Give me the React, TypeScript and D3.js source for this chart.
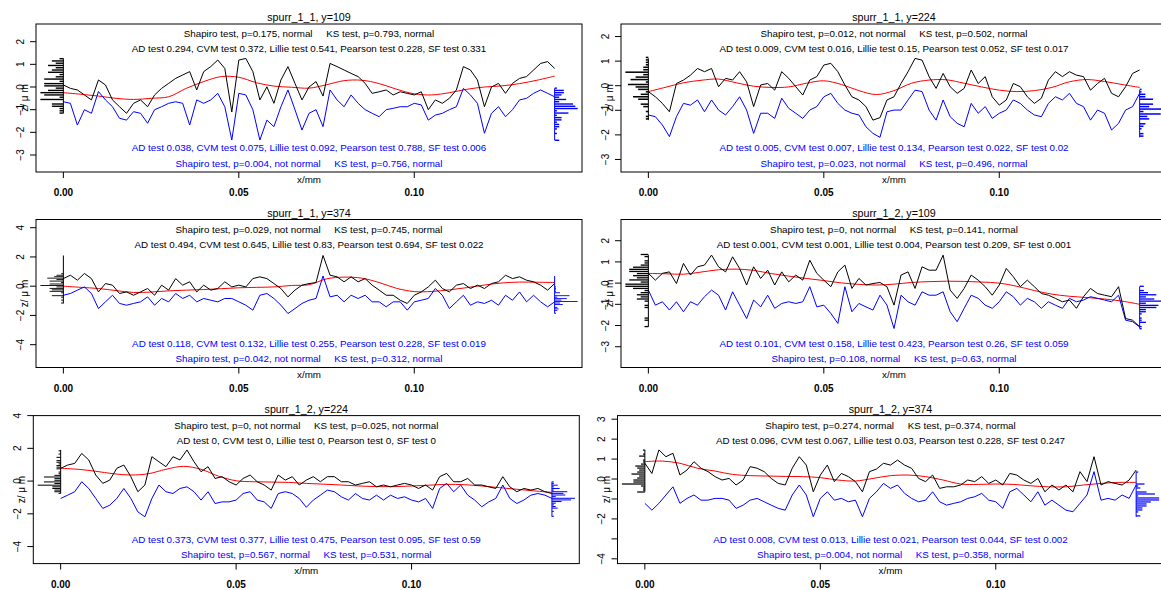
import React from 'react';
import * as d3 from 'd3';

// ---------- data ----------
const X_STEP = 0.002; // mm between profile samples
const RED_STEP = 0.005; // mm between smooth-trend samples
const X_TICKS = [0, 0.05, 0.1];
const X_TICK_LABELS = ['0.00', '0.05', '0.10'];

const TITLES = ['spurr_1_1, y=109', 'spurr_1_1, y=224', 'spurr_1_1, y=374', 'spurr_1_2, y=109', 'spurr_1_2, y=224', 'spurr_1_2, y=374'];

const BLACK_TEST1 = [
  'Shapiro test, p=0.175, normal     KS test, p=0.793, normal',
  'Shapiro test, p=0.012, not normal     KS test, p=0.502, normal',
  'Shapiro test, p=0.029, not normal     KS test, p=0.745, normal',
  'Shapiro test, p=0, not normal     KS test, p=0.141, normal',
  'Shapiro test, p=0, not normal     KS test, p=0.025, not normal',
  'Shapiro test, p=0.274, normal     KS test, p=0.374, normal',
];
const BLACK_TEST2 = [
  'AD test 0.294, CVM test 0.372, Lillie test 0.541, Pearson test 0.228, SF test 0.331',
  'AD test 0.009, CVM test 0.016, Lillie test 0.15, Pearson test 0.052, SF test 0.017',
  'AD test 0.494, CVM test 0.645, Lillie test 0.83, Pearson test 0.694, SF test 0.022',
  'AD test 0.001, CVM test 0.001, Lillie test 0.004, Pearson test 0.209, SF test 0.001',
  'AD test 0, CVM test 0, Lillie test 0, Pearson test 0, SF test 0',
  'AD test 0.096, CVM test 0.067, Lillie test 0.03, Pearson test 0.228, SF test 0.247',
];
const BLUE_TEST1 = [
  'AD test 0.038, CVM test 0.075, Lillie test 0.092, Pearson test 0.788, SF test 0.006',
  'AD test 0.005, CVM test 0.007, Lillie test 0.134, Pearson test 0.022, SF test 0.02',
  'AD test 0.118, CVM test 0.132, Lillie test 0.255, Pearson test 0.228, SF test 0.019',
  'AD test 0.101, CVM test 0.158, Lillie test 0.423, Pearson test 0.26, SF test 0.059',
  'AD test 0.373, CVM test 0.377, Lillie test 0.475, Pearson test 0.095, SF test 0.59',
  'AD test 0.008, CVM test 0.013, Lillie test 0.021, Pearson test 0.044, SF test 0.002',
];
const BLUE_TEST2 = [
  'Shapiro test, p=0.004, not normal     KS test, p=0.756, normal',
  'Shapiro test, p=0.023, not normal     KS test, p=0.496, normal',
  'Shapiro test, p=0.042, not normal     KS test, p=0.312, normal',
  'Shapiro test, p=0.108, normal     KS test, p=0.63, normal',
  'Shapiro test, p=0.567, normal     KS test, p=0.531, normal',
  'Shapiro test, p=0.004, not normal     KS test, p=0.358, normal',
];

const P1_BLACK = [
  0.09, -0.06, -0.13, -0.35, -0.57, 0.31, 0.09, -0.57, -0.87, -1.16,
  -0.72, -0.57, -0.87, -0.35, -0.06, 0.16, 0.38, 0.53, 0.68, -0.13,
  0.68, 0.9, 1.19, 0.82, -1.1, 1.19, 1.26, 0.68, -0.57, 0.01,
  -0.72, 0.31, 0.9, 0.16, -0.57, 0.0, 0.24, -0.4, 1.04, 0.9,
  0.75, 0.6, 0.46, 0.16, -0.28, -0.21, -0.13, -0.35, -0.21, -0.28,
  -0.35, -0.21, -1.0, -0.57, -0.72, -0.5, -0.13, 0.9, 0.75, 0.31,
  -0.87, 0.0, 0.16, -0.28, 0.16, 0.38, 0.46, 0.75, 1.04, 1.12,
  0.82,
];
const P1_BLUE = [
  -0.65, -0.72, -1.68, -1.0, -1.16, -0.2, -0.57, -0.87, -1.38, -1.46,
  -1.09, -1.16, -1.6, -1.0, -0.87, -0.72, -0.65, -0.72, -1.68, -0.57,
  -0.72, -0.57, -0.28, -0.87, -2.34, -0.28, -0.35, -1.0, -2.34, -1.46,
  -1.75, -0.87, -0.13, -1.0, -1.9, -1.16, -1.0, -1.75, -0.13, -0.57,
  -0.87, -0.35, -0.72, -1.0, -1.16, -1.31, -1.0, -0.94, -0.87, -0.87,
  -0.72, -0.79, -1.46, -1.24, -1.16, -1.0, -0.87, -0.06, -0.35, -0.72,
  -2.04, -1.16, -0.87, -1.31, -1.0, -0.57, -0.5, -0.28, -0.13, -0.28,
  -0.43,
];
const P1_RED = [-0.25, -0.32, -0.4, -0.5, -0.55, -0.5, -0.43, -0.06, 0.24, 0.46, 0.43, 0.19, 0.04, -0.01, -0.05, 0.1, 0.28, 0.3, 0.15, -0.1, -0.3, -0.35, -0.25, -0.1, 0.0, 0.05, 0.15, 0.3, 0.48];

const P2_BLACK = [
  -0.24, -0.45, -0.72, -1.06, 0.09, 0.23, 0.43, 0.7, 0.57, 0.7,
  -0.04, 0.3, 0.23, 0.57, 0.16, -0.85, 0.03, 0.09, -0.18, 0.57,
  0.3, -0.04, -0.38, 0.23, 0.37, 0.84, 0.91, 0.57, 0.03, -0.45,
  -0.58, -0.85, -1.4, -1.3, -0.58, -0.45, 0.09, 0.57, 1.11, 1.04,
  0.37, -0.11, 0.5, -0.04, -0.31, -0.11, 0.64, 0.09, 0.37, -0.45,
  -0.79, -0.58, 0.09, -0.04, -0.45, -0.72, -0.51, 0.23, 0.57, 0.37,
  0.57, 0.43, 0.37, -0.18, 0.09, 0.3, -0.31, -0.45, -0.04, 0.5,
  0.64,
];
const P2_BLUE = [
  -1.19, -1.26, -1.6, -2.07, -1.26, -0.72, -0.79, -0.58, -1.06, -0.58,
  -0.99, -1.19, -0.85, -0.45, -0.99, -1.94, -1.12, -1.12, -1.33, -0.51,
  -0.92, -1.12, -1.33, -0.99, -0.85, -0.45, -0.31, -0.72, -0.99, -1.12,
  -1.19, -1.67, -1.94, -2.1, -1.06, -0.99, -0.99, -0.58, -0.18, -0.24,
  -0.99, -1.4, -0.58, -1.26, -1.53, -1.67, -0.72, -1.12, -0.85, -1.33,
  -1.12, -0.99, -0.58, -0.72, -0.99, -1.19, -1.26, -0.72, -0.45, -0.58,
  -0.31, -0.72, -0.85, -1.4, -0.99, -1.12, -1.8, -1.53, -0.99, -0.85,
  -0.31,
];
const P2_RED = [-0.24, -0.06, 0.12, 0.22, 0.27, 0.12, -0.02, -0.07, -0.05, 0.1, 0.2, 0.05, -0.2, -0.36, -0.2, 0.1, 0.23, 0.24, 0.1, -0.05, -0.18, -0.24, -0.2, -0.07, 0.16, 0.25, 0.17, 0.05, -0.07];

const P3_BLACK = [
  0.52, 0.75, 0.41, 0.87, 0.52, -0.39, 0.18, 0.07, -0.5, -0.39,
  -0.62, -0.39, -0.16, -0.62, 0.07, -0.27, 0.52, 0.07, 0.3, -0.39,
  0.07, -0.27, -0.16, 0.3, -0.05, 0.07, -0.05, 0.52, 0.64, 0.52,
  0.18, -0.16, -0.73, -0.27, 0.07, 0.18, 0.25, 2.1, 0.75, 0.64,
  0.3, 0.64, 0.3, 0.52, 0.07, -0.27, -0.62, -0.62, -0.96, -1.18,
  -0.62, -0.39, -0.05, 0.41, -0.16, -0.39, 0.07, 0.18, -0.16, 0.07,
  -0.16, 0.18, 0.3, 0.75, 0.52, 0.64, 0.41, 0.3, 0.07, -0.27,
  0.18,
];
const P3_BLUE = [
  -0.62, -0.5, -0.27, -0.05, -0.5, -1.53, -1.07, -0.62, -1.18, -1.3,
  -1.18, -1.07, -0.73, -1.3, -0.84, -1.07, -0.5, -0.84, -0.62, -1.07,
  -0.84, -0.96, -1.07, -0.84, -0.84, -1.07, -1.3, -1.64, -0.62, -0.5,
  -0.84, -1.3, -1.87, -1.53, -1.18, -0.96, -0.84, 0.7, -0.73, -0.62,
  -1.07, -0.62, -0.84, -0.62, -1.07, -1.07, -1.41, -1.07, -1.07, -1.64,
  -1.07, -0.96, -0.84, -0.16, -0.62, -1.53, -1.07, -0.62, -1.3, -1.07,
  -1.18, -0.96, -1.3, -0.62, -0.96, -0.39, -1.07, -0.62, -1.07, -1.41,
  -1.07,
];
const P3_RED = [0.0, -0.08, -0.16, -0.3, -0.43, -0.4, -0.32, -0.27, -0.23, -0.17, -0.11, -0.08, -0.05, 0.05, 0.1, 0.5, 0.62, 0.55, 0.25, -0.15, -0.37, -0.36, -0.25, -0.1, 0.08, 0.22, 0.28, 0.27, 0.25];

const P4_BLACK = [
  0.46, 0.14, 0.46, 0.53, -0.02, 0.93, 0.38, 0.77, 0.85, 1.32,
  0.77, 0.53, 1.24, 0.69, -0.09, 0.77, 0.22, 0.61, -0.09, 0.53,
  0.06, 0.38, 0.14, 1.08, 0.46, 0.14, -0.17, 0.53, 0.85, -0.25,
  0.22, -0.09, -0.02, 0.03, -0.17, -1.04, 0.38, 0.53, -0.25, 0.77,
  0.61, 0.61, 1.32, -0.33, -0.72, -0.25, 0.38, 0.14, -0.17, -0.57,
  -0.09, 0.69, 0.3, -0.17, 0.14, -0.17, -0.49, -0.57, -0.72, -0.88,
  -0.8, -1.19, -0.64, -0.25, -0.49, -0.57, -0.64, -0.17, -1.67, -1.75,
  -2.06,
];
const P4_BLUE = [
  -0.33, -1.04, -0.88, -1.27, -0.88, -1.35, -0.88, -1.04, -0.64, -0.33,
  -0.57, -1.27, -0.41, -1.04, -1.67, -0.8, -1.12, -0.57, -1.19, -0.96,
  -0.88, -0.96, -0.88, -0.17, -1.12, -1.04, -1.43, -1.9, -0.17, -1.35,
  -0.96, -1.12, -1.27, -0.57, -1.04, -2.14, -0.57, -0.88, -1.04, -0.41,
  -0.57, -0.57, -0.41, -1.35, -1.82, -1.19, -0.57, -0.72, -1.04, -1.19,
  -0.88, -0.41, -0.64, -1.04, -0.72, -0.88, -1.19, -0.88, -1.04, -1.19,
  -0.72, -0.88, -0.8, -0.64, -0.72, -0.8, -0.88, -0.57, -1.75, -1.82,
  -2.06,
];
const P4_RED = [0.46, 0.44, 0.42, 0.52, 0.63, 0.66, 0.6, 0.45, 0.33, 0.22, 0.12, 0.01, -0.06, -0.09, -0.05, 0.03, 0.07, 0.09, 0.08, 0.05, 0.0, -0.15, -0.35, -0.52, -0.62, -0.68, -0.75, -0.85, -1.0];

const P5_BLACK = [
  0.78, 0.98, 1.08, 1.69, 1.29, 0.37, -0.14, 0.06, 0.78, 0.98,
  0.27, -0.65, -0.24, 1.49, 1.18, 0.88, 1.49, 1.29, 1.9, 1.18,
  0.57, 0.88, 0.16, 0.27, -0.04, -0.24, 0.16, 0.37, -0.04, -0.24,
  -0.55, 0.37, 0.06, 0.27, -0.24, 0.06, 0.27, -0.04, 0.27, 0.27,
  -0.04, -0.04, -0.24, -0.14, -0.04, -0.35, -0.24, -0.35, -0.24, -0.14,
  -0.24, -0.45, -0.24, -0.55, 0.27, 0.47, -0.04, -0.04, 0.16, -0.24,
  -0.24, -0.35, -0.45, 0.27, -0.35, -0.65, -0.45, -0.55, -0.45, -0.65,
  -0.76,
];
const P5_BLUE = [
  -1.06, -0.86, -0.65, -0.04, -0.45, -1.06, -1.67, -1.47, -1.06, -0.45,
  -1.06, -1.88, -2.18, -1.06, -0.24, -0.65, -0.76, -0.45, -0.35, -0.65,
  -1.16, -0.65, -1.37, -1.27, -1.27, -1.16, -0.76, -0.65, -1.16, -1.27,
  -1.67, -0.76, -0.65, -0.76, -1.06, -1.6, -1.16, -0.86, -0.55, -0.65,
  -0.96, -1.16, -0.76, -1.06, -1.16, -0.86, -1.16, -0.86, -1.06, -0.96,
  -1.16, -1.27, -1.06, -1.67, -0.45, -0.14, -0.65, -0.24, -0.86, -1.16,
  -1.57, -1.27, -1.06, -0.24, -1.06, -1.37, -1.16, -0.86, -0.76, -0.86,
  -1.06,
];
const P5_RED = [0.78, 0.72, 0.6, 0.45, 0.37, 0.45, 0.72, 0.9, 0.72, 0.3, 0.02, -0.04, -0.06, -0.08, -0.14, -0.19, -0.24, -0.3, -0.34, -0.34, -0.3, -0.25, -0.2, -0.22, -0.3, -0.4, -0.5, -0.6, -0.69];

const P6_BLACK = [
  0.79, 0.28, 1.46, 1.12, 1.29, 0.2, 0.45, 0.87, 0.54, 0.37,
  0.12, -0.05, 0.03, -0.3, -0.05, 0.62, 0.54, 0.37, 0.03, -0.22,
  -0.3, 0.54, 1.12, 0.7, -0.64, 0.2, 0.7, -0.13, 0.28, 0.12,
  -0.13, -0.64, 0.37, 0.5, 0.79, 0.7, 0.95, 0.7, 0.54, 0.03,
  -0.13, 0.2, -0.47, -0.39, -0.39, -0.3, -0.05, -0.13, 0.12, -0.22,
  -0.05, -0.3, 0.28, 0.2, -0.05, -0.22, 0.03, -0.64, -0.3, -0.55,
  -0.3, -0.64, 0.37, -0.13, 1.12, -0.3, -0.13, -0.22, -0.3, -0.05,
  0.45,
];
const P6_BLUE = [
  -1.22, -1.56, -1.22, -0.8, -0.39, -1.22, -0.97, -0.8, -1.06, -1.06,
  -0.97, -0.97, -1.06, -1.47, -1.31, -1.06, -0.97, -1.14, -1.31, -1.47,
  -1.56, -0.8, -0.3, -0.8, -1.89, -0.97, -0.64, -1.06, -0.97, -1.14,
  -1.06, -1.89, -0.97, -0.64, -0.22, -0.47, -0.3, -0.72, -0.97, -1.14,
  -1.06, -0.64, -1.14, -1.31, -1.22, -1.14, -0.97, -0.89, -0.72, -1.06,
  -1.14, -1.47, -0.64, -0.47, -0.8, -1.14, -0.64, -1.31, -1.06, -1.31,
  -1.56, -1.64, -1.22, -0.8, 0.37, -1.06, -0.97, -1.06, -0.8, -0.97,
  -0.3,
];
const P6_RED = [0.87, 0.9, 0.79, 0.54, 0.4, 0.23, 0.17, 0.15, 0.13, 0.12, 0.07, -0.05, -0.1, 0.03, 0.17, 0.2, 0.12, -0.05, -0.25, -0.27, -0.25, -0.27, -0.34, -0.39, -0.39, -0.3, -0.22, -0.17, -0.17];

const BLACKS = [P1_BLACK, P2_BLACK, P3_BLACK, P4_BLACK, P5_BLACK, P6_BLACK];
const BLUES = [P1_BLUE, P2_BLUE, P3_BLUE, P4_BLUE, P5_BLUE, P6_BLUE];
const REDS = [P1_RED, P2_RED, P3_RED, P4_RED, P5_RED, P6_RED];

// axis settings per panel
const Y_DOMAINS: [number, number][] = [[-3.75, 2.78], [-3.51, 2.51], [-5.56, 4.56], [-3.98, 3.0], [-5.04, 4.0], [-4.24, 3.18]];
const Y_TICKS = [[-3, -2, -1, 0, 1, 2], [-3, -2, -1, 0, 1, 2], [-4, -2, 0, 2, 4], [-3, -2, -1, 0, 1, 2], [-4, -2, 0, 2, 4], [-4, -3, -2, -1, 0, 1, 2, 3]];
const Y_LABELLED = [[-3, -2, -1, 0, 1, 2], [-3, -2, -1, 0, 1, 2], [-4, -2, 0, 2, 4], [-3, -2, -1, 0, 1, 2], [-4, -2, 0, 2, 4], [-4, -2, 0, 1, 2, 3]];
const X_DOMAIN: [number, number] = [-0.0078, 0.1478];
const HIST_BIN = 0.1; // histogram bin width in µm

// ---------- layout ----------
const BOX_LEFT = [36, 621, 36, 621, 33.3, 617.5];
const BOX_TOP = [24, 24, 219.5, 219.5, 415.6, 415.6];
const BOX_W = 546;
const BOX_H = 148;
const HIST_PX = 23;
const FONT = "'Liberation Sans', Arial, Helvetica, sans-serif";
const fmtMinus = (v: number) => (v < 0 ? '\u2212' + Math.abs(v) : String(v));

function Panel({ i }: { i: number }) {
  const left = BOX_LEFT[i];
  const top = BOX_TOP[i];
  const bottom = top + BOX_H;
  const cx = left + BOX_W / 2;
  const x = d3.scaleLinear().domain(X_DOMAIN).range([left, left + BOX_W]);
  const y = d3.scaleLinear().domain(Y_DOMAINS[i]).range([bottom, top]);
  const black = BLACKS[i];
  const blue = BLUES[i];
  const red = REDS[i];

  const profile = d3
    .line<number>()
    .x((_, k) => x(k * X_STEP))
    .y((d) => y(d));
  const trend = d3
    .line<number>()
    .x((_, k) => x(k * RED_STEP))
    .y((d) => y(d))
    .curve(d3.curveCatmullRom.alpha(0.5));

  const hist = (vals: number[], baseX: number, dir: number, color: string, key: string) => {
    const ext = d3.extent(vals) as [number, number];
    const lo = Math.floor(ext[0] / HIST_BIN) * HIST_BIN;
    const th = d3.range(lo, ext[1] + HIST_BIN, HIST_BIN);
    const bins = d3.bin().domain([lo, th[th.length - 1]]).thresholds(th)(vals);
    const maxC = d3.max(bins, (b) => b.length) || 1;
    return (
      <g key={key}>
        <line x1={baseX} x2={baseX} y1={y(ext[0])} y2={y(ext[1])} stroke={color} />
        {bins.map((b, k) => {
          if (!b.length) return null;
          const yTop = y(b.x1 as number);
          const yBot = y(b.x0 as number);
          const h = (yBot - yTop) * 0.62;
          const ym = (yTop + yBot) / 2;
          const len = (b.length / maxC) * HIST_PX;
          return (
            <rect
              key={k}
              x={dir > 0 ? baseX : baseX - len}
              y={ym - h / 2}
              width={len}
              height={h}
              fill={color}
            />
          );
        })}
      </g>
    );
  };
  const xEnd = x((black.length - 1) * X_STEP);

  return (
    <g>
      <text x={cx} y={top - 3} textAnchor="middle" fontSize={10.7}>
        {TITLES[i]}
      </text>
      <text x={cx} y={top + 13} textAnchor="middle" fontSize={9.8} xmlSpace="preserve" style={{ whiteSpace: 'pre' }}>
        {BLACK_TEST1[i]}
      </text>
      <text x={cx} y={top + 28.3} textAnchor="middle" fontSize={9.8} xmlSpace="preserve" style={{ whiteSpace: 'pre' }}>
        {BLACK_TEST2[i]}
      </text>
      <text x={cx} y={bottom - 20.8} textAnchor="middle" fontSize={9.8} fill="#0000ff" xmlSpace="preserve" style={{ whiteSpace: 'pre' }}>
        {BLUE_TEST1[i]}
      </text>
      <text x={cx} y={bottom - 5.5} textAnchor="middle" fontSize={9.8} fill="#0000ff" xmlSpace="preserve" style={{ whiteSpace: 'pre' }}>
        {BLUE_TEST2[i]}
      </text>

      <path d={trend(red) || ''} fill="none" stroke="#ff0000" strokeWidth={1} />
      <path d={profile(blue) || ''} fill="none" stroke="#0000ff" strokeWidth={1} />
      <path d={profile(black) || ''} fill="none" stroke="#000" strokeWidth={1} />
      {hist(black, x(0), -1, '#000', 'hb')}
      {hist(blue, xEnd, 1, '#0000ff', 'hu')}

      <rect x={left} y={top} width={BOX_W} height={BOX_H} fill="none" stroke="#000" strokeWidth={1} />

      {X_TICKS.map((t, k) => (
        <g key={'x' + k}>
          <line x1={x(t)} x2={x(t)} y1={bottom} y2={bottom + 6} stroke="#000" />
          <text x={x(t)} y={bottom + 24} textAnchor="middle" fontSize={10} fontWeight="bold">
            {X_TICK_LABELS[k]}
          </text>
        </g>
      ))}
      <text x={cx} y={bottom + 10.5} textAnchor="middle" fontSize={9.8}>
        x/mm
      </text>

      {Y_TICKS[i].map((t) => (
        <line key={'yt' + t} x1={left - 6} x2={left} y1={y(t)} y2={y(t)} stroke="#000" />
      ))}
      {Y_LABELLED[i].map((t) => (
        <text key={'yl' + t} transform={`translate(${left - 12.5},${y(t)}) rotate(-90)`} textAnchor="middle" fontSize={10}>
          {fmtMinus(t)}
        </text>
      ))}
      <text transform={`translate(${left - 8},${(top + bottom) / 2}) rotate(-90)`} textAnchor="middle" fontSize={10} xmlSpace="preserve" style={{ whiteSpace: 'pre' }}>
        {'z/ \u03bc m'}
      </text>
    </g>
  );
}

export default function App() {
  return (
    <svg
      width={1161}
      height={590}
      style={{ position: 'absolute', left: 0, top: 0, background: '#fff' }}
      fontFamily={FONT}
    >
      <rect x={0} y={0} width={1161} height={590} fill="#fff" />
      {TITLES.map((_, i) => (
        <Panel key={i} i={i} />
      ))}
    </svg>
  );
}
